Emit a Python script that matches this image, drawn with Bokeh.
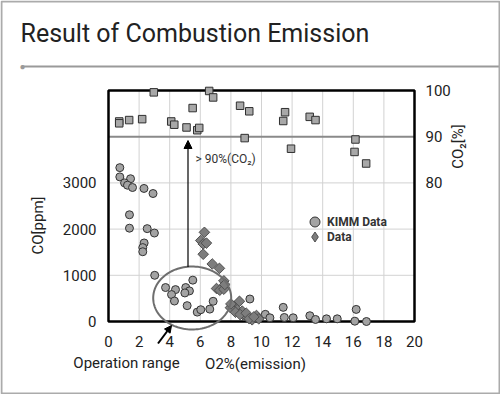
import numpy as np
from bokeh.plotting import figure
from bokeh.models import (Range1d, LinearAxis, FixedTicker, Arrow, NormalHead, Label,
                          PolyAnnotation, Legend, LegendItem)
from bokeh.embed import file_html
from bokeh.resources import INLINE

# ---------------- data ----------------
co2_x = [0.7, 0.7, 1.35, 2.2, 2.96, 4.1, 4.3, 5.5, 5.1, 5.8, 5.93, 6.58, 6.84,
         8.6, 9.2, 8.9, 11.54, 11.42, 13.15, 13.53, 11.93, 16.14, 16.08, 16.84]
co2_y = [93.3, 92.9, 93.6, 93.8, 99.6, 93.3, 92.6, 96.2, 92.0, 91.4, 91.9, 99.9, 98.5,
         96.7, 95.5, 89.7, 95.3, 93.4, 94.3, 93.6, 87.4, 89.4, 86.7, 84.2]

kimm_x = [0.74, 0.74, 1.44, 1.05, 1.24, 1.57, 2.32, 2.91, 1.37, 1.37, 2.53, 3.0,
          2.33, 2.24, 2.24, 3.02, 3.73, 4.38, 4.12, 4.31, 5.14, 5.51, 5.05, 5.29,
          4.99, 5.8, 6.03, 6.62, 6.84, 9.24, 10.25, 10.55, 11.42, 11.49, 12.07,
          13.16, 13.53, 14.25, 14.95, 16.19, 16.1, 16.86]
kimm_co = [3330, 3130, 3090, 3000, 2950, 2900, 2880, 2770, 2310, 2020, 2010, 1915,
           1700, 1600, 1510, 1000, 735, 690, 583, 443, 343, 895, 735, 662,
           618, 203, 255, 268, 437, 487, 155, 80, 306, 87, 80,
           125, 44, 58, 58, 262, 7, 0]

data_x = [6.27, 6.03, 6.19, 6.4, 6.19, 6.78, 7.25, 7.54, 7.06, 7.27, 7.54, 7.6,
          8.56, 8.19, 8.41, 8.74, 7.97, 8.84, 9.06, 9.39, 9.67, 9.82, 8.0, 8.3,
          8.6, 9.0, 9.2, 9.5]
data_co = [1930, 1753, 1680, 1697, 1456, 1245, 1150, 880, 714, 677, 700, 800,
           437, 330, 255, 225, 300, 130, 95, 37, 130, 58, 380, 200,
           150, 180, 60, 100]

x_ticks = [0, 2, 4, 6, 8, 10, 12, 14, 16, 18, 20]
co_ticks = [0, 1000, 2000, 3000]
co2_ticks = [80, 90, 100]
x_min, x_max = 0, 20
co_min, co_max = 0, 5000
co2_min, co2_max, co2_ref = 50, 100, 90

FONT = "Roboto"

# ---------------- layout: the frame is the whole card; the chart box sits inside ----
W, H = 500, 394
BOX_L, BOX_R, BOX_T, BOX_B = 108, 414, 90, 321   # chart box in card pixels

def ext_range(lo, hi, px_lo_pad, px_hi_pad, px_len):
    per = (hi - lo) / px_len
    return Range1d(lo - px_lo_pad * per, hi + px_hi_pad * per)

xr = ext_range(x_min, x_max, BOX_L, W - BOX_R, BOX_R - BOX_L)
yr = ext_range(co_min, co_max, H - BOX_B, BOX_T, BOX_B - BOX_T)
y2r = ext_range(co2_min, co2_max, H - BOX_B, BOX_T, BOX_B - BOX_T)

p = figure(frame_width=W, frame_height=H, min_border=0,
           x_range=xr, y_range=yr, x_axis_type=None, y_axis_type=None,
           output_backend="svg", toolbar_location=None,
           background_fill_color="white", border_fill_color="white")
p.extra_y_ranges = {"co2": y2r}
p.outline_line_color = None
p.grid.visible = False

def style_axis(ax, standoff):
    ax.axis_line_color = None
    ax.major_tick_line_color = None
    ax.minor_tick_line_color = None
    ax.major_tick_out = 0
    ax.major_tick_in = 0
    ax.minor_tick_out = 0
    ax.minor_tick_in = 0
    ax.major_label_text_font = FONT
    ax.major_label_text_font_size = "15px"
    ax.major_label_text_color = "#222222"
    ax.major_label_standoff = standoff

xax = LinearAxis(ticker=FixedTicker(ticks=x_ticks), fixed_location=co_min)
style_axis(xax, 14)
p.add_layout(xax, "below")
yax = LinearAxis(ticker=FixedTicker(ticks=co_ticks), fixed_location=x_min)
style_axis(yax, 12)
p.add_layout(yax, "left")
rax = LinearAxis(y_range_name="co2", ticker=FixedTicker(ticks=co2_ticks), fixed_location=x_max)
style_axis(rax, 11)
p.add_layout(rax, "right")

# grid lines inside the chart box
gx = x_ticks[1:-1]
p.segment(x0=gx, y0=[co_min] * len(gx), x1=gx, y1=[co_max] * len(gx),
          line_color="#d2d2d2", line_width=1)
gy = co_ticks[1:]
p.segment(x0=[x_min] * len(gy), y0=gy, x1=[x_max] * len(gy), y1=gy,
          line_color="#d2d2d2", line_width=1)
# 90 % CO2 reference line
p.segment(x0=[x_min], y0=[co2_ref], x1=[x_max], y1=[co2_ref], y_range_name="co2",
          line_color="#8a8a8a", line_width=2)

# chart box
p.quad(left=[x_min], right=[x_max], bottom=[co_min], top=[co_max],
       fill_alpha=0, line_color="black", line_width=2.5)

# data marks
r_sq = p.scatter(co2_x, co2_y, y_range_name="co2", marker="square", size=7.5,
                 fill_color="#a8a8a8", line_color="#303030", line_width=1)
r_k = p.scatter(kimm_x, kimm_co, marker="circle", size=8,
                fill_color="#a3a3a3", line_color="#333333", line_width=1)
r_d = p.scatter(data_x, data_co, marker="square", angle=np.pi / 4, size=7.5,
                fill_color="#7d7d7d", line_color="#505050", line_width=1)
# legend swatch for the diamond series (legend glyphs ignore marker angle);
# its single point is NaN, so nothing is drawn in the plot itself
r_d_key = p.scatter(x=[np.nan], y=[np.nan], marker="diamond", size=10,
                    fill_color="#7d7d7d", line_color="#505050", line_width=1)

def legend_row(label, rend, loc, gsize):
    lg = Legend(items=[LegendItem(label=label, renderers=[rend], index=0)], location=loc)
    lg.background_fill_alpha = 0
    lg.border_line_color = None
    lg.label_text_font = FONT
    lg.label_text_font_style = "bold"
    lg.label_text_font_size = "12px"
    lg.label_text_color = "#333333"
    lg.padding = 0
    lg.margin = 0
    lg.spacing = 0
    lg.glyph_width = 25
    lg.glyph_height = gsize
    lg.label_height = 13
    lg.label_standoff = 0
    p.add_layout(lg)

legend_row("KIMM Data", r_k, (302, 160), 25)
legend_row("Data", r_d_key, (302, 143), 29)

# operation-range ellipse (card pixel units)
t = np.linspace(0, 2 * np.pi, 120)
ecx, ecy, erx, ery = 191.7, 297.5, 39, 31.5
p.add_layout(PolyAnnotation(xs=list(ecx + erx * np.cos(t)), ys=list(ecy + ery * np.sin(t)),
                            xs_units="canvas", ys_units="canvas",
                            fill_alpha=0, line_color="#6e6e6e", line_alpha=1.0,
                            line_width=2))

# arrows (card pixel units)
p.add_layout(Arrow(end=NormalHead(size=8, fill_color="black", line_color="black"),
                   x_start=187.5, y_start=266.5, x_end=187.5, y_end=140,
                   start_units="canvas", end_units="canvas",
                   line_width=1.2, line_color="black"))
p.add_layout(Arrow(end=NormalHead(size=7, fill_color="black", line_color="black"),
                   x_start=157.5, y_start=343, x_end=171, y_end=325,
                   start_units="canvas", end_units="canvas",
                   line_width=2, line_color="black"))

def lab(X, Y, text, size, align="left", angle=0, color="#222222", style="normal"):
    p.add_layout(Label(x=X, y=Y, x_units="canvas", y_units="canvas", text=text,
                       text_font=FONT, text_font_size=size,
                       text_align=align, text_baseline="middle", angle=angle,
                       text_color=color, text_font_style=style))

lab(195, 158, "> 90%(CO\u2082)", "12px", color="#333333")
lab(126, 362, "Operation range", "15px", align="center")
lab(255, 363, "O2%(emission)", "15px", align="center")
lab(37, 225, "CO[ppm]", "15px", align="center", angle=np.pi / 2)
lab(457, 146, "CO\u2082[%]", "15px", align="center", angle=np.pi / 2)

# header
lab(20, 33, "Result of Combustion Emission", "25px")
p.add_layout(Arrow(end=None, x_start=22, y_start=66, x_end=500, y_end=66,
                   start_units="canvas", end_units="canvas",
                   line_color="#9a9a9a", line_width=2))
lab(22, 66, "\u25CF", "10px", align="center", color="#9a9a9a")

# card border
p.add_layout(PolyAnnotation(xs=[1, 499, 499, 1], ys=[1, 1, 393, 393],
                            xs_units="canvas", ys_units="canvas",
                            fill_alpha=0, line_color="#ababab", line_alpha=1.0,
                            line_width=2))

open("out.html", "w").write(file_html(p, INLINE))
